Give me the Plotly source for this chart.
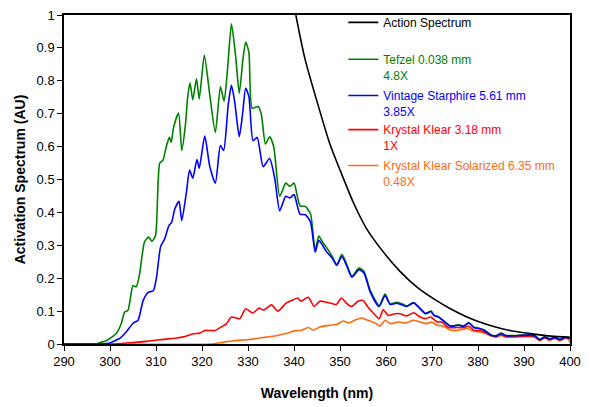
import plotly.graph_objects as go

# ---------------- data ----------------
action_wl = [340.4, 342.4, 347.8, 350.0, 352.9, 355.8, 359.4, 363.1, 366.8, 370.4,
             374.0, 377.6, 381.3, 385.0, 388.6, 392.2, 395.9, 400.0]
action_val = [1.0, 0.866, 0.608, 0.529, 0.43, 0.35, 0.28, 0.22, 0.172, 0.137,
              0.107, 0.082, 0.062, 0.047, 0.037, 0.030, 0.024, 0.020]

tefzel_wl = [290, 297, 298, 299.2, 300.3, 301.4, 302.4, 303.2, 303.9, 305.0, 305.7, 306.4,
             307.5, 308.4, 309.1, 309.9, 310.8, 311.5, 312.2, 312.9, 313.3, 313.8, 314.9,
             315.6, 316.4, 316.9, 317.4, 318.0, 318.8, 319.4, 320.5, 321.7, 322.9, 324.0,
             324.8, 325.5, 326.4, 327.3, 328.1, 328.9, 329.5, 330.2, 330.9, 332.2, 332.9,
             333.8, 334.7, 335.6, 336.9, 338.2, 339.1, 340.0, 341.3, 342.5, 343.6, 344.6,
             345.4, 346.2, 347.1, 348.3, 349.3, 350.4, 351.5, 352.6, 354.1, 355.2, 356.6,
             358.5, 359.8, 360.9, 362.4, 363.8, 364.5, 366.0, 367.1, 368.6, 369.8, 370.4,
             371.4, 372.5, 374.0, 375.8, 376.9, 378.0, 379.1, 380.2, 381.3, 382.8, 383.9,
             385.0, 386.1, 387.9, 389.4, 391.2, 392.3, 393.4, 394.5, 395.6, 396.7, 397.8,
             398.9, 400.0]
tefzel_val = [0, 0, 0.005, 0.01, 0.02, 0.033, 0.06, 0.097, 0.102, 0.177, 0.174, 0.21,
              0.31, 0.325, 0.312, 0.33, 0.549, 0.558, 0.598, 0.628, 0.613, 0.657, 0.702,
              0.588, 0.667, 0.752, 0.794, 0.742, 0.806, 0.745, 0.878, 0.756, 0.643, 0.782,
              0.738, 0.826, 0.973, 0.876, 0.762, 0.866, 0.918, 0.886, 0.717, 0.722, 0.698,
              0.608, 0.63, 0.599, 0.449, 0.489, 0.479, 0.489, 0.42, 0.418, 0.395, 0.285,
              0.328, 0.31, 0.293, 0.266, 0.241, 0.273, 0.241, 0.206, 0.231, 0.221, 0.162,
              0.117, 0.152, 0.122, 0.127, 0.12, 0.115, 0.126, 0.113, 0.093, 0.1, 0.088,
              0.083, 0.071, 0.055, 0.058, 0.055, 0.065, 0.051, 0.048, 0.043, 0.028, 0.025,
              0.033, 0.026, 0.026, 0.027, 0.028, 0.026, 0.014, 0.022, 0.016, 0.021, 0.014,
              0.021, 0.019]

starphire_wl = [290, 298, 300, 301.1, 302.2, 303.6, 305.0, 306.1, 307.2, 308.3, 309.4,
                310.1, 311.0, 311.9, 312.8, 313.4, 314.1, 315.0, 315.6, 316.6, 317.3,
                318.0, 318.9, 319.4, 320.6, 321.7, 322.9, 324.0, 324.7, 325.7, 326.4,
                327.1, 328.1, 328.8, 329.5, 330.2, 331.1, 332.0, 333.3, 334.7, 335.8,
                336.9, 338.2, 339.1, 340.0, 341.3, 342.5, 343.6, 344.6, 345.4, 346.2,
                347.1, 348.3, 349.3, 350.4, 351.5, 352.6, 354.1, 355.2, 356.6, 358.5,
                359.8, 360.9, 362.4, 363.8, 364.5, 366.0, 367.1, 368.6, 369.8, 370.4,
                371.4, 372.5, 374.0, 375.8, 376.9, 378.0, 379.1, 380.2, 381.3, 382.8,
                383.9, 385.0, 386.1, 387.9, 389.4, 391.2, 392.3, 393.4, 394.5, 395.6,
                396.7, 397.8, 398.9, 400.0]
starphire_val = [0, 0, 0.003, 0.01, 0.018, 0.038, 0.063, 0.072, 0.132, 0.157, 0.162,
                 0.201, 0.296, 0.32, 0.36, 0.37, 0.411, 0.434, 0.375, 0.46, 0.529,
                 0.504, 0.561, 0.534, 0.632, 0.539, 0.489, 0.603, 0.588, 0.727, 0.786,
                 0.737, 0.63, 0.697, 0.777, 0.752, 0.618, 0.628, 0.539, 0.564, 0.504,
                 0.405, 0.449, 0.444, 0.454, 0.395, 0.393, 0.37, 0.279, 0.315, 0.30,
                 0.28, 0.261, 0.239, 0.266, 0.236, 0.203, 0.226, 0.216, 0.157, 0.114,
                 0.147, 0.12, 0.124, 0.117, 0.114, 0.125, 0.112, 0.092, 0.099, 0.087,
                 0.082, 0.07, 0.054, 0.057, 0.054, 0.064, 0.05, 0.047, 0.042, 0.027,
                 0.024, 0.032, 0.025, 0.025, 0.026, 0.027, 0.025, 0.013, 0.021, 0.015,
                 0.020, 0.013, 0.020, 0.018]

krystal_wl = [290, 300, 303.6, 307.9, 310.8, 314.4, 316.3, 318.1, 319.5, 320.6, 322.8,
              324.6, 325.3, 326.4, 328.2, 329.5, 331.0, 332.4, 333.4, 335.1, 336.5,
              338.3, 339.8, 340.8, 341.5, 343.1, 344.4, 345.6, 347.1, 348.1, 349.2,
              350.3, 351.4, 352.5, 353.9, 355.0, 356.1, 357.4, 358.5, 359.4, 360.5,
              361.9, 363.1, 364.5, 366.0, 367.4, 368.6, 369.7, 371.1, 372.1, 373.6,
              375.4, 376.9, 378.0, 379.1, 380.5, 381.5, 382.8, 384.0, 385.0, 386.1,
              388.0, 390.0, 392.3, 393.4, 394.5, 395.6, 396.7, 397.8, 398.9, 400.0]
krystal_val = [0, 0, 0.003, 0.008, 0.013, 0.018, 0.023, 0.031, 0.033, 0.041, 0.041,
               0.055, 0.061, 0.082, 0.077, 0.107, 0.094, 0.109, 0.103, 0.119, 0.1,
               0.124, 0.134, 0.14, 0.13, 0.142, 0.114, 0.13, 0.127, 0.124, 0.12,
               0.14, 0.124, 0.114, 0.13, 0.132, 0.112, 0.092, 0.077, 0.104, 0.087,
               0.092, 0.092, 0.085, 0.095, 0.082, 0.077, 0.082, 0.067, 0.067, 0.05,
               0.05, 0.05, 0.054, 0.042, 0.04, 0.036, 0.026, 0.023, 0.028, 0.023,
               0.023, 0.024, 0.023, 0.012, 0.02, 0.013, 0.019, 0.012, 0.019, 0.016]

solarized_wl = [290, 322, 324, 326.8, 329.7, 332.6, 334.0, 336.2, 338.0, 340.2, 341.7,
                343.1, 344.2, 345.6, 347.8, 349.2, 350.7, 351.8, 353.2, 354.7, 356.1,
                357.6, 358.7, 359.8, 360.9, 362.7, 364.2, 366.0, 367.4, 368.8, 369.9,
                371.1, 372.5, 374.0, 375.8, 377.7, 378.8, 380.5, 381.5, 382.8, 384.0,
                385.0, 386.1, 388.0, 390.0, 392.3, 393.4, 394.5, 395.6, 396.7, 397.8,
                398.9, 399.6, 400.0]
solarized_val = [0, 0, 0.004, 0.01, 0.013, 0.018, 0.021, 0.025, 0.031, 0.04, 0.042,
                 0.05, 0.042, 0.052, 0.057, 0.059, 0.07, 0.064, 0.072, 0.079, 0.072,
                 0.064, 0.054, 0.072, 0.062, 0.067, 0.064, 0.072, 0.067, 0.062, 0.067,
                 0.057, 0.054, 0.042, 0.042, 0.047, 0.04, 0.036, 0.033, 0.024, 0.021,
                 0.026, 0.021, 0.021, 0.022, 0.021, 0.01, 0.018, 0.011, 0.017, 0.01,
                 0.017, 0.015, 0.005]

x_ticks = [290, 300, 310, 320, 330, 340, 350, 360, 370, 380, 390, 400]
y_ticks = [0, 0.1, 0.2, 0.3, 0.4, 0.5, 0.6, 0.7, 0.8, 0.9, 1]

FONT = "Liberation Sans, Arial, sans-serif"

series = [
    ("Action Spectrum", action_wl, action_val, "#000000", "legend"),
    ("Tefzel 0.038 mm<br>4.8X", tefzel_wl, tefzel_val, "#008000", "legend2"),
    ("Vintage Starphire 5.61 mm<br>3.85X", starphire_wl, starphire_val, "#0000FF", "legend3"),
    ("Krystal Klear 3.18 mm<br>1X", krystal_wl, krystal_val, "#FF0000", "legend4"),
    ("Krystal Klear Solarized 6.35 mm<br>0.48X", solarized_wl, solarized_val, "#FF6A10", "legend5"),
]

fig = go.Figure()
# draw order: orange, red, green, blue, black (blue above green)
order = [4, 3, 1, 2, 0]
for i in order:
    name, xs, ys, col, lg = series[i]
    fig.add_trace(go.Scatter(
        x=xs, y=ys, mode="lines", name=name, legend=lg,
        line=dict(color=col, width=1.6, shape="spline", smoothing=0.6),
    ))

legend_tops = {"legend": 1.021, "legend2": 0.909, "legend3": 0.799,
               "legend4": 0.695, "legend5": 0.586}
legend_cols = {"legend": "#000000", "legend2": "#008000", "legend3": "#0000FF",
               "legend4": "#FF0000", "legend5": "#FF6A10"}
leg_layout = {}
for k, yv in legend_tops.items():
    leg_layout[k] = dict(
        x=0.552, y=yv, xanchor="left", yanchor="top",
        bgcolor="rgba(0,0,0,0)", borderwidth=0, valign="top",
        font=dict(family=FONT, size=12, color=legend_cols[k]),
    )

fig.update_layout(
    width=590, height=407,
    margin=dict(l=64, r=20, t=8, b=63),
    paper_bgcolor="white", plot_bgcolor="white",
    font=dict(family=FONT, size=13, color="black"),
    showlegend=True,
    **leg_layout,
)

fig.update_xaxes(
    range=[290, 400], tickvals=x_ticks, ticktext=[str(v) for v in x_ticks],
    ticks="outside", ticklen=5, tickwidth=1, tickcolor="black",
    showline=True, linecolor="black", linewidth=1.5, mirror=True,
    showgrid=False, zeroline=False,
    tickfont=dict(family=FONT, size=13),
    title=dict(text="<b>Wavelength (nm)</b>", font=dict(family=FONT, size=14), standoff=20),
)
fig.update_yaxes(
    range=[0, 1], tickvals=y_ticks, ticktext=[("%g" % v) for v in y_ticks],
    ticks="outside", ticklen=5, tickwidth=1, tickcolor="black",
    showline=True, linecolor="black", linewidth=1.5, mirror=True,
    showgrid=False, zeroline=False,
    tickfont=dict(family=FONT, size=13),
    title=dict(text="<b>Activation Spectrum (AU)</b>", font=dict(family=FONT, size=14), standoff=8),
)

fig.write_html("out.html")
